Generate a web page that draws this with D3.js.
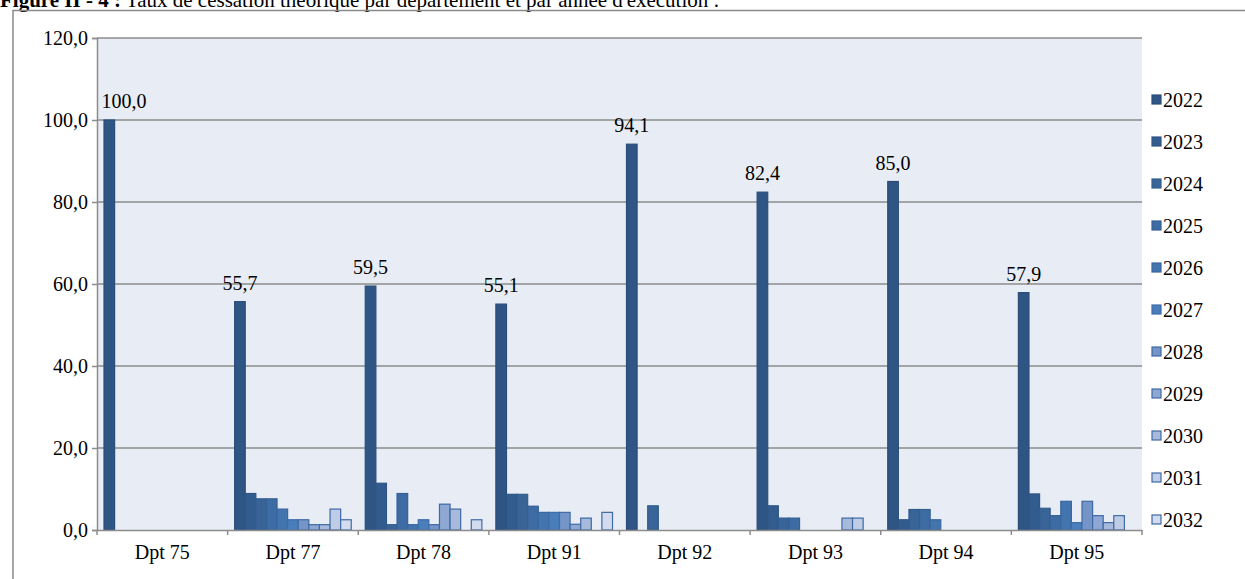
<!DOCTYPE html>
<html>
<head>
<meta charset="utf-8">
<script src="https://cdn.jsdelivr.net/npm/d3@7"></script>
<style>
  html, body { margin: 0; padding: 0; background: #fff; }
  svg { display: block; }
  svg text { font-family: "Liberation Serif", "Times New Roman", serif; }
</style>
</head>
<body>
<svg id="chart" width="1245" height="579"></svg>
<script>
// ---- data ----
const categories = ["Dpt 75", "Dpt 77", "Dpt 78", "Dpt 91", "Dpt 92", "Dpt 93", "Dpt 94", "Dpt 95"];
const years = ["2022", "2023", "2024", "2025", "2026", "2027", "2028", "2029", "2030", "2031", "2032"];
const v2022 = [100.0, 55.7, 59.5, 55.1, 94.1, 82.4, 85.0, 57.9];
const v2023 = [0, 8.9, 11.4, 8.7, 0, 5.9, 2.5, 8.8];
const v2024 = [0, 7.6, 1.3, 8.7, 5.9, 2.9, 5.0, 5.3];
const v2025 = [0, 7.6, 8.9, 5.8, 0, 2.9, 5.0, 3.5];
const v2026 = [0, 5.1, 1.3, 4.3, 0, 0, 2.5, 7.0];
const v2027 = [0, 2.5, 2.5, 4.3, 0, 0, 0, 1.8];
const v2028 = [0, 2.5, 1.3, 4.3, 0, 0, 0, 7.0];
const v2029 = [0, 1.3, 6.3, 1.4, 0, 0, 0, 3.5];
const v2030 = [0, 1.3, 5.1, 2.9, 0, 2.9, 0, 1.8];
const v2031 = [0, 5.1, 0, 0, 0, 2.9, 0, 3.5];
const v2032 = [0, 2.5, 2.5, 4.3, 0, 0, 0, 0];
const yTicks = [0, 20, 40, 60, 80, 100, 120];
const titleBold = "Figure II - 4 :";
const titleRest = " Taux de cessation théorique par département et par année d'exécution :";

const series = [v2022, v2023, v2024, v2025, v2026, v2027, v2028, v2029, v2030, v2031, v2032];
const fills = ["#2F5584", "#335C8E", "#386498", "#3C6CA3", "#4274AE", "#4A7EBB", "#7595C8", "#8EA8D3", "#A7BADC", "#BECCE5", "#D2DCEE"];
const strokes = ["#2A4E7A", "#2E5584", "#325C8D", "#365F95", "#3A66A0", "#3D6CAA", "#3E6AA5", "#3E6AA5", "#3E6AA5", "#3E6AA5", "#3E6AA5"];

const fmt = v => v.toFixed(1).replace(".", ",");
const FS = 20;
const FF = "'Liberation Serif', 'Times New Roman', serif";

const svg = d3.select("#chart");

// title (partially cut at top, as in reference)
const t = svg.append("text").attr("x", 0).attr("y", 7).attr("font-size", 21)
  .attr("font-family", FF).attr("fill", "#000");
t.append("tspan").attr("font-weight", "bold").text(titleBold);
t.append("tspan").text(titleRest);

// outer frame
svg.append("rect").attr("x", 13).attr("y", 10.5).attr("width", 1400).attr("height", 800)
  .attr("fill", "none").attr("stroke", "#8a8a8a").attr("stroke-width", 1.5);

const pL = 97, pR = 1142, pT = 38, pB = 530;

const x0 = d3.scaleBand().domain(categories).range([pL, pR]).paddingInner(0).paddingOuter(0);
const x1 = d3.scaleBand().domain(years).range([7, x0.bandwidth() - 7]).padding(0);
const y = d3.scaleLinear().domain([0, 120]).range([pB, pT]);

// plot background
svg.append("rect").attr("x", pL).attr("y", pT).attr("width", pR - pL).attr("height", pB - pT)
  .attr("fill", "#E8ECF4");

// gridlines
svg.append("g").selectAll("line").data(yTicks.filter(d => d > 0)).join("line")
  .attr("x1", pL).attr("x2", pR)
  .attr("y1", d => y(d)).attr("y2", d => y(d))
  .attr("stroke", "#8c8c8c").attr("stroke-width", 1.5);

// y axis
const yAxis = d3.axisLeft(y).tickValues(yTicks).tickFormat(fmt).tickSize(5).tickPadding(4);
const gy = svg.append("g").attr("transform", `translate(${pL},0)`).call(yAxis);
gy.attr("font-family", FF);
gy.select(".domain").attr("stroke", "#8c8c8c").attr("stroke-width", 1.5);
gy.selectAll(".tick line").attr("stroke", "#8c8c8c").attr("stroke-width", 1.5);
gy.selectAll(".tick text").attr("font-size", FS).attr("fill", "#000").attr("font-family", FF);

// bars
const groups = svg.append("g").selectAll("g").data(categories).join("g")
  .attr("transform", d => `translate(${x0(d)},0)`);
groups.selectAll("rect").data((c, ci) => years.map((yr, si) => ({ yr, si, v: series[si][ci] })).filter(d => d.v > 0))
  .join("rect")
  .attr("x", d => x1(d.yr))
  .attr("width", x1.bandwidth())
  .attr("y", d => y(d.v))
  .attr("height", d => y(0) - y(d.v))
  .attr("fill", d => fills[d.si])
  .attr("stroke", d => strokes[d.si])
  .attr("stroke-width", 1.2);

// x axis
const xAxis = d3.axisBottom(x0).tickSize(0).tickPadding(15);
const gx = svg.append("g").attr("transform", `translate(0,${pB})`).call(xAxis);
gx.attr("font-family", FF);
gx.select(".domain").attr("stroke", "#8c8c8c").attr("stroke-width", 1.5);
gx.selectAll(".tick text").attr("font-size", FS).attr("fill", "#000").attr("font-family", FF);
// boundary ticks
const bounds = categories.map(c => x0(c)).concat([pR]);
svg.append("g").selectAll("line").data(bounds).join("line")
  .attr("x1", d => d).attr("x2", d => d)
  .attr("y1", pB).attr("y2", pB + 5)
  .attr("stroke", "#8c8c8c").attr("stroke-width", 1.5);

// data labels on 2022 series
svg.append("g").selectAll("text").data(categories).join("text")
  .attr("x", (c, i) => {
    const cx = x0(c) + x1("2022") + x1.bandwidth() / 2;
    return Math.max(cx, pL + 27);
  })
  .attr("y", (c, i) => y(v2022[i]) - 12)
  .attr("text-anchor", "middle")
  .attr("font-size", FS).attr("font-family", FF).attr("fill", "#000")
  .text((c, i) => fmt(v2022[i]));

// legend
const leg = svg.append("g").selectAll("g").data(years).join("g")
  .attr("transform", (d, i) => `translate(1152,${100 + i * 42})`);
leg.append("rect").attr("x", 0).attr("y", -5).attr("width", 9).attr("height", 9)
  .attr("fill", (d, i) => fills[i]).attr("stroke", (d, i) => strokes[i]).attr("stroke-width", 1.2);
leg.append("text").attr("x", 11).attr("y", 7).attr("font-size", FS).attr("font-family", FF)
  .attr("fill", "#000").text(d => d);
</script>
</body>
</html>
